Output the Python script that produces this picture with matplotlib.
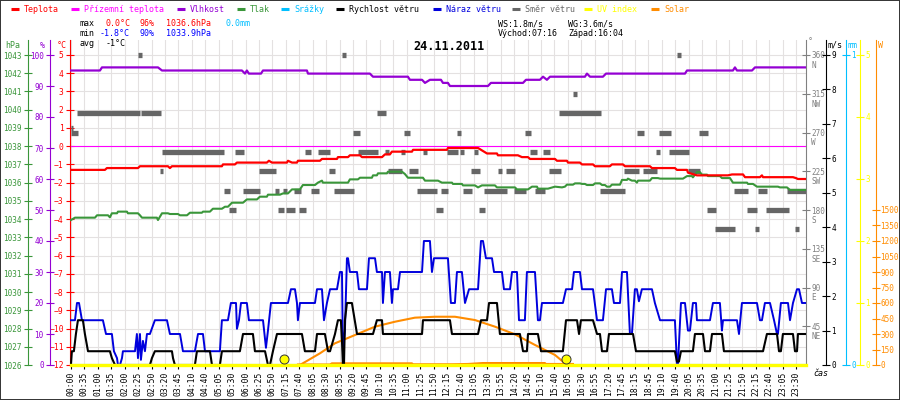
import matplotlib
matplotlib.use("Agg")
import matplotlib.pyplot as plt
from matplotlib.lines import Line2D
from matplotlib.patches import Rectangle

plt.rcParams['font.family'] = 'DejaVu Sans Mono'
plt.rcParams['font.size'] = 6

# x axis = label slot index (the station logs samples, labels every few samples)
time_labels = ['00:00', '00:35', '01:00', '01:35', '02:00', '02:25', '02:50', '03:20', '03:45',
               '04:10', '04:40', '05:05', '05:30', '06:00', '06:25', '06:50', '07:15', '07:40',
               '08:05', '08:30', '08:55', '09:20', '09:45', '10:10', '10:35', '11:00', '11:25',
               '11:50', '12:15', '12:40', '13:05', '13:30', '13:55', '14:20', '14:45', '15:10',
               '15:40', '16:05', '16:30', '16:55', '17:20', '17:45', '18:15', '18:45', '19:10',
               '19:40', '20:05', '20:35', '21:00', '21:25', '21:50', '22:15', '22:40', '23:05',
               '23:30']
x_end = 54.73

# temperature (degC)
temp = [(0.0, -1.3), (2.53, -1.3), (2.68, -1.2), (4.99, -1.2), (5.14, -1.1), (7.22, -1.1),
        (7.37, -1.2), (7.52, -1.1), (11.24, -1.1), (11.32, -1.0), (12.21, -1.0), (12.36, -0.9),
        (14.59, -0.9), (14.74, -0.8), (14.97, -0.9), (16.08, -0.9), (16.16, -0.8), (16.46, -0.9),
        (16.83, -0.9), (16.90, -0.8), (18.54, -0.8), (18.69, -0.7), (19.81, -0.7), (19.88, -0.6),
        (20.63, -0.6), (20.77, -0.5), (21.52, -0.5), (21.67, -0.6), (23.16, -0.6), (23.38, -0.45),
        (23.75, -0.45), (23.90, -0.3), (25.39, -0.3), (25.47, -0.2), (28.00, -0.2), (28.07, -0.1),
        (30.31, -0.1), (30.98, -0.4), (31.72, -0.4), (31.79, -0.5), (33.28, -0.5), (33.58, -0.6),
        (34.03, -0.6), (34.18, -0.7), (36.04, -0.7), (36.19, -0.8), (36.93, -0.8), (37.01, -0.9),
        (37.90, -0.9), (38.05, -1.0), (38.87, -1.0), (39.02, -1.1), (40.13, -1.1), (40.28, -1.0),
        (41.10, -1.0), (41.25, -1.1), (43.11, -1.1), (43.26, -1.2), (44.97, -1.2), (45.12, -1.3),
        (45.87, -1.3), (45.94, -1.45), (46.61, -1.6), (48.92, -1.6), (49.22, -1.55), (50.04, -1.55),
        (50.19, -1.7), (51.30, -1.7), (51.45, -1.6), (51.53, -1.7), (53.76, -1.7), (53.98, -1.75),
        (54.13, -1.8), (54.73, -1.8)]

# ground temperature (degC)
ground = [(0.0, 0.0), (54.73, 0.0)]

# relative humidity (%)
hum = [(0.0, 95), (2.16, 95), (2.31, 96), (6.48, 96), (6.78, 95), (12.73, 95), (12.96, 94),
       (13.10, 95), (13.25, 94), (14.15, 94), (14.30, 95), (17.57, 95), (17.65, 94), (22.26, 94),
       (22.49, 93), (25.09, 93), (25.24, 92), (26.14, 92), (26.36, 91), (26.73, 92), (27.55, 92),
       (27.70, 91), (28.07, 91), (28.22, 90), (31.05, 90), (31.27, 91), (33.66, 91), (33.88, 92),
       (34.92, 92), (35.15, 93), (35.44, 92), (35.67, 93), (38.27, 93), (38.42, 94), (38.65, 93),
       (39.61, 93), (39.84, 94), (45.72, 94), (45.87, 95), (49.29, 95), (49.44, 96), (49.59, 95),
       (50.71, 95), (50.93, 96), (54.73, 96)]

# pressure (hPa)
pres = [(0.0, 1033.95), (0.30, 1034.08), (1.79, 1034.08), (1.94, 1034.21), (2.76, 1034.21),
        (2.90, 1034.10), (3.05, 1034.32), (3.43, 1034.32), (3.50, 1034.41), (4.17, 1034.41),
        (4.24, 1034.32), (4.99, 1034.32), (5.14, 1034.21), (5.29, 1034.08), (6.40, 1034.08),
        (6.48, 1033.95), (6.78, 1034.32), (7.22, 1034.32), (7.37, 1034.28), (7.97, 1034.28),
        (8.12, 1034.21), (8.64, 1034.21), (8.86, 1034.35), (9.75, 1034.35), (9.83, 1034.41),
        (10.35, 1034.41), (10.57, 1034.57), (11.24, 1034.57), (11.47, 1034.68), (11.69, 1034.68),
        (11.99, 1034.90), (12.81, 1034.90), (13.10, 1035.08), (13.85, 1035.08), (14.07, 1035.23),
        (14.59, 1035.23), (14.67, 1035.34), (15.56, 1035.34), (15.79, 1035.41), (16.16, 1035.41),
        (16.46, 1035.63), (17.05, 1035.63), (17.27, 1035.87), (18.17, 1035.87), (18.39, 1036.00),
        (18.69, 1036.11), (18.76, 1036.00), (20.63, 1036.00), (20.77, 1036.18), (21.37, 1036.18),
        (21.52, 1036.27), (22.41, 1036.27), (22.49, 1036.40), (22.78, 1036.40), (22.86, 1036.51),
        (23.53, 1036.51), (23.60, 1036.60), (24.65, 1036.60), (24.87, 1036.47), (25.09, 1036.27),
        (26.21, 1036.27), (26.36, 1036.11), (27.33, 1036.11), (27.62, 1036.00), (28.37, 1036.00),
        (28.44, 1035.93), (29.11, 1035.93), (29.19, 1035.85), (30.08, 1035.85), (30.31, 1035.74),
        (30.60, 1035.85), (31.57, 1035.85), (31.72, 1035.74), (33.06, 1035.74), (33.21, 1035.63),
        (34.03, 1035.63), (34.33, 1035.78), (34.70, 1035.78), (34.77, 1035.67), (35.52, 1035.67),
        (36.04, 1035.78), (36.56, 1035.74), (36.78, 1035.78), (36.93, 1035.89), (37.38, 1035.89),
        (37.53, 1035.96), (37.90, 1035.96), (38.05, 1035.93), (38.27, 1035.93), (38.42, 1035.87),
        (38.87, 1035.87), (39.02, 1035.96), (39.39, 1035.96), (39.54, 1035.87), (39.76, 1035.87),
        (39.91, 1035.78), (40.13, 1035.78), (40.28, 1035.89), (40.88, 1035.89), (41.03, 1036.15),
        (41.40, 1036.15), (41.47, 1036.22), (41.77, 1036.11), (41.99, 1036.11), (42.14, 1036.00),
        (42.22, 1036.11), (43.11, 1036.11), (43.26, 1036.25), (43.71, 1036.25), (43.86, 1036.22),
        (45.57, 1036.22), (45.87, 1036.36), (46.24, 1036.36), (46.31, 1036.29), (46.61, 1036.58),
        (46.83, 1036.58), (46.98, 1036.44), (47.36, 1036.44), (47.43, 1036.36), (48.32, 1036.36),
        (48.47, 1036.25), (49.07, 1036.25), (49.29, 1036.00), (50.34, 1036.00), (50.41, 1035.93),
        (50.78, 1035.93), (51.08, 1035.78), (52.64, 1035.78), (52.79, 1035.74), (53.31, 1035.74),
        (53.54, 1035.60), (54.73, 1035.60)]

# rain (mm) and UV index - zero all day
rain = [(0.0, 0.0), (54.73, 0.0)]
uv = [(0.0, 0.0), (54.73, 0.0)]

# wind speed (m/s)
speed = [(0.0, 0), (0.07, 0.4), (0.22, 0.4), (0.37, 0.9), (0.52, 1.3), (0.89, 1.3), (1.04, 0.9),
         (1.27, 0.4), (2.90, 0.4), (3.05, 0.2), (3.28, 0), (5.88, 0), (6.03, 0.2), (6.25, 0.4),
         (7.52, 0.4), (7.60, 0.2), (7.74, 0), (9.23, 0), (9.38, 0.4), (10.35, 0.4), (10.50, 0),
         (11.09, 0), (11.24, 0.4), (12.58, 0.4), (12.81, 0.9), (13.55, 0.9), (13.70, 0.4),
         (14.45, 0.4), (14.67, 0), (14.82, 0), (15.04, 0.4), (15.34, 0.9), (17.20, 0.9),
         (17.42, 0.4), (18.17, 0.4), (18.32, 0.9), (18.91, 0.9), (19.14, 0.4), (19.29, 0.4),
         (19.66, 0.9), (19.88, 1.3), (20.10, 1.3), (20.18, 0.7), (20.25, 0), (20.33, 0),
         (20.40, 1.3), (20.55, 1.8), (20.92, 1.8), (21.30, 0.9), (22.49, 0.9), (22.78, 1.3),
         (23.16, 1.3), (23.23, 0.9), (26.14, 0.9), (26.21, 1.3), (28.22, 1.3), (28.37, 0.9),
         (30.31, 0.9), (30.53, 1.3), (30.98, 1.3), (31.13, 1.8), (31.72, 1.8), (31.94, 0.9),
         (33.43, 0.9), (33.66, 0.4), (33.95, 0.4), (34.03, 0.9), (34.77, 0.9), (35.00, 0.4),
         (36.63, 0.4), (36.86, 1.3), (37.68, 1.3), (37.83, 0.9), (37.97, 1.3), (38.87, 1.3),
         (39.17, 0.9), (39.39, 0.9), (39.54, 0.4), (39.91, 0.4), (40.06, 0.9), (41.85, 0.9),
         (42.07, 0.4), (44.97, 0.4), (45.12, 0.1), (45.27, 0.1), (45.42, 0.4), (46.31, 0.4),
         (46.46, 0.9), (47.06, 0.9), (47.21, 0.4), (47.58, 0.4), (47.73, 0.9), (48.47, 0.9),
         (48.62, 0.4), (51.53, 0.4), (51.82, 0.9), (52.57, 0.9), (52.72, 0.4), (52.86, 0.4),
         (53.01, 0.9), (53.76, 0.9), (53.91, 0.4), (54.06, 0.4), (54.13, 0.9), (54.73, 0.9)]

# wind gust (m/s)
gust = [(0.0, 1.3), (0.30, 1.3), (0.45, 1.8), (0.60, 1.8), (0.82, 1.3), (2.38, 1.3), (2.61, 0.9),
        (3.05, 0.9), (3.20, 0.4), (3.43, 0.2), (3.50, 0), (3.65, 0), (3.80, 0.2), (3.87, 0.4),
        (4.77, 0.4), (4.91, 0.9), (4.99, 0.2), (5.14, 0.9), (5.21, 0.15), (5.36, 0.7), (5.51, 0.4),
        (5.66, 0.9), (5.88, 0.9), (6.25, 1.3), (7.15, 1.3), (7.37, 0.9), (8.12, 0.9), (8.34, 0.4),
        (9.23, 0.4), (9.46, 0.9), (9.83, 0.9), (9.98, 0.4), (11.09, 0.4), (11.24, 1.3),
        (11.69, 1.3), (11.91, 1.8), (12.29, 1.8), (12.36, 1.05), (12.51, 1.3), (12.66, 1.8),
        (13.10, 1.8), (13.25, 1.3), (14.30, 1.3), (14.52, 0.5), (14.67, 1.0), (14.89, 1.8),
        (16.16, 1.8), (16.38, 2.2), (16.68, 2.2), (16.83, 1.8), (16.90, 1.3), (17.05, 1.8),
        (18.17, 1.8), (18.32, 2.2), (18.69, 2.2), (18.84, 1.3), (19.06, 1.8), (19.29, 2.2),
        (19.81, 2.2), (20.03, 2.7), (20.18, 2.7), (20.25, 0.4), (20.40, 1.0), (20.55, 3.1),
        (20.63, 3.1), (20.77, 2.7), (21.30, 2.7), (21.44, 2.2), (22.04, 2.2), (22.19, 3.1),
        (22.64, 3.1), (22.78, 2.7), (23.16, 2.7), (23.23, 1.8), (23.38, 2.7), (23.75, 2.7),
        (23.90, 1.8), (23.98, 2.2), (24.35, 2.2), (24.50, 2.7), (26.14, 2.7), (26.28, 3.6),
        (26.73, 3.6), (26.88, 2.7), (27.03, 3.1), (28.07, 3.1), (28.29, 1.8), (28.59, 1.8),
        (28.74, 2.7), (29.11, 2.7), (29.34, 1.8), (29.64, 2.2), (30.31, 2.2), (30.53, 3.6),
        (30.68, 3.6), (30.90, 3.1), (31.35, 3.1), (31.50, 2.7), (32.09, 2.7), (32.24, 2.2),
        (32.69, 2.2), (32.84, 2.7), (33.21, 2.7), (33.36, 1.3), (33.80, 1.3), (33.95, 2.7),
        (34.55, 2.7), (34.77, 1.3), (34.92, 1.3), (35.07, 1.8), (36.63, 1.8), (36.86, 2.2),
        (37.31, 2.2), (37.45, 2.7), (37.90, 2.7), (38.05, 2.2), (38.87, 2.2), (39.17, 1.3),
        (39.61, 1.3), (39.84, 2.2), (40.28, 2.2), (40.43, 1.8), (40.88, 1.8), (41.03, 2.7),
        (41.40, 2.7), (41.62, 0.9), (41.77, 0.9), (41.99, 2.2), (42.14, 2.2), (42.29, 1.85),
        (42.51, 2.2), (43.26, 2.2), (43.48, 1.8), (43.86, 1.3), (44.97, 1.3), (45.12, 0.05),
        (45.20, 0.05), (45.42, 1.8), (45.72, 1.8), (45.94, 1.0), (46.09, 1.0), (46.31, 1.8),
        (46.54, 1.8), (46.61, 1.3), (47.58, 1.3), (47.80, 1.8), (48.32, 1.8), (48.47, 1.0),
        (48.55, 1.3), (49.59, 1.3), (49.74, 0.9), (49.96, 1.8), (51.08, 1.8), (51.30, 1.3),
        (51.45, 1.3), (51.67, 1.8), (52.05, 1.8), (52.35, 1.3), (52.57, 0.9), (52.64, 0.9),
        (52.86, 1.8), (53.39, 1.8), (53.54, 1.3), (53.76, 1.8), (54.06, 2.2), (54.21, 2.2),
        (54.43, 1.8), (54.73, 1.8)]

# wind direction runs: (from slot, to slot, degrees)
wind_dir = [(4.99, 5.29, 360), (0.45, 5.14, 292.5), (5.21, 6.70, 292.5), (0.0, 0.15, 275),
            (0.0, 0.52, 270), (6.78, 11.39, 247.5), (12.21, 12.88, 247.5), (17.42, 17.87, 247.5),
            (18.39, 19.29, 247.5), (6.63, 6.85, 225), (14.00, 15.26, 225), (11.39, 11.84, 202.5),
            (12.81, 14.07, 202.5), (15.19, 15.49, 202.5), (15.79, 16.08, 202.5),
            (16.60, 17.12, 202.5), (17.87, 18.47, 202.5), (11.76, 12.29, 180), (15.41, 15.86, 180),
            (16.01, 16.68, 180), (16.98, 17.50, 180),
            (20.18, 20.48, 360), (22.78, 23.45, 292.5), (36.34, 39.46, 292.5), (21.00, 21.52, 270),
            (24.80, 25.24, 270), (28.74, 29.04, 270), (33.80, 34.25, 270), (21.37, 22.86, 247.5),
            (23.38, 23.68, 247.5), (24.57, 24.87, 247.5), (26.21, 26.51, 247.5),
            (28.00, 28.82, 247.5), (28.96, 29.26, 247.5), (30.01, 30.31, 247.5),
            (34.18, 34.70, 247.5), (35.15, 35.67, 247.5), (19.21, 19.66, 225), (23.60, 24.65, 225),
            (25.17, 25.84, 225), (29.78, 30.46, 225), (31.79, 32.09, 225), (32.39, 33.06, 225),
            (35.59, 36.49, 225), (19.58, 21.07, 202.5), (25.76, 27.25, 202.5),
            (27.55, 28.07, 202.5), (29.19, 29.86, 202.5), (30.75, 32.46, 202.5),
            (32.99, 33.88, 202.5), (34.55, 35.29, 202.5), (27.18, 27.70, 180), (30.38, 30.83, 180),
            (45.12, 45.42, 360), (37.38, 37.68, 315), (42.14, 42.67, 270), (43.79, 44.68, 270),
            (46.76, 47.43, 270), (43.56, 43.86, 247.5), (44.53, 46.02, 247.5), (41.18, 42.29, 225),
            (42.59, 43.63, 225), (45.94, 46.83, 225), (39.39, 41.25, 202.5), (49.37, 50.41, 202.5),
            (51.15, 51.82, 202.5), (53.31, 54.73, 202.5), (47.36, 48.03, 180), (50.34, 51.08, 180),
            (51.75, 53.46, 180), (47.95, 49.44, 157.5), (50.93, 51.23, 157.5),
            (53.91, 54.21, 157.5)]

# solar (W/m2): clear-sky curve and measured
solar_calc = [(17.05, 0), (18.54, 113), (19.66, 210), (21.15, 290), (22.64, 371), (24.13, 419),
              (25.61, 458), (27.10, 467), (28.59, 467), (30.08, 435), (31.57, 371), (33.06, 297),
              (34.55, 194), (36.04, 97), (36.93, 0)]
solar_meas = [(16.90, 5), (19.29, 5), (19.43, 16), (25.39, 16), (25.47, 7), (28.37, 7),
              (29.56, 10), (30.68, 19), (35.29, 19), (35.37, 10), (37.38, 10)]

sun_events = [15.86, 36.86]   # sunrise 07:16, sunset 16:04
compass = ['NE', 'E', 'SE', 'S', 'SW', 'W', 'NW', 'N']

legend_names = ['Teplota', 'Přízemní teplota', 'Vlhkost', 'Tlak', 'Srážky', 'Rychlost větru',
                'Náraz větru', 'Směr větru', 'UV index', 'Solar']
legend_colors = ['#ff0000', '#ff00ff', '#9400d3', '#3a963a', '#00bfff', '#000000', '#0000dd',
                 '#666666', '#ffff00', '#ff8c00']
legend_x = [11, 71, 177, 237, 281, 336, 433, 512, 584, 651]

RED, MAG, PUR, GRN, CYA, BLK, BLU, GRY, YEL, ORA = legend_colors
DIRC = '#808080'


def xy(pairs):
    return [p[0] for p in pairs], [p[1] for p in pairs]


W, H = 900, 400
def fx(x): return x / W
def fy(y): return 1 - y / H

fig = plt.figure(figsize=(9, 4), dpi=100)
fig.patch.set_facecolor('white')
ax = fig.add_axes([fx(70), fy(365), (806 - 70) / W, (365 - 40) / H])


def span(lo, hi):
    # the scales fill 310 px, the frame sticks out 15 px above
    return lo, lo + (hi - lo) * 325 / 310


ax.set_xlim(-0.07, x_end)
ax.set_ylim(*span(-12, 5))
ax.set_yticks(range(-12, 6))
ax.set_xticks(range(len(time_labels)))
ax.set_xticklabels(time_labels, rotation=90)
ax.grid(True, color='#e4e1e1', lw=0.8)
ax.set_axisbelow(True)
for s in ['top', 'right']:
    ax.spines[s].set_visible(False)
ax.spines['left'].set_color(RED)
ax.spines['bottom'].set_color(BLK)
ax.tick_params(axis='y', colors=RED, direction='inout', length=6, width=0.8, pad=1.5,
               labelsize=5.8)
ax.tick_params(axis='x', direction='out', length=3, width=0.8, pad=2, labelsize=5.8)


def side_axis(lo, hi, side=None, offset=0, color='k', ticks=(), pad=1.5):
    t = ax.twinx()
    t.set_ylim(*span(lo, hi))
    for s in t.spines.values():
        s.set_visible(False)
    if side is None:
        t.yaxis.set_visible(False)
        return t
    sp = t.spines[side]
    sp.set_visible(True)
    sp.set_position(('outward', offset * 0.72))
    sp.set_color(color)
    t.yaxis.set_ticks_position(side)
    t.set_yticks(ticks)
    t.tick_params(axis='y', colors=color, direction='inout', length=6, width=0.8, pad=pad,
                  labelsize=5.5)
    return t


# wind direction (drawn first, under the lines)
dax = side_axis(0, 360, 'right', 0, DIRC, range(45, 361, 45), pad=1)
dax.hlines([d[2] for d in wind_dir], [d[0] for d in wind_dir], [d[1] for d in wind_dir],
           colors=GRY, lw=3.8, capstyle='butt')
for deg, name in zip(range(45, 361, 45), compass):
    dax.annotate(name, xy=(1, deg), xycoords=('axes fraction', 'data'), xytext=(3.8, -7.4),
                 textcoords='offset points', ha='left', va='center', color=DIRC, fontsize=5.5)

hax = side_axis(0, 100, 'left', 20, PUR, range(0, 101, 10))
hax.plot(*xy(hum), color=PUR, lw=1.6)

pax = side_axis(1026, 1043, 'left', 42, GRN, range(1026, 1044))
pax.plot(*xy(pres), color=GRN, lw=1.5)

tax = side_axis(-12, 5)
tax.plot(*xy(ground), color=MAG, lw=0.8)
tax.plot(*xy(temp), color=RED, lw=1.6)

rax = side_axis(0, 1, 'right', 40, CYA, [0, 1], pad=0.8)
rax.plot(*xy(rain), color=CYA, lw=1.5)

yax = side_axis(0, 5, 'right', 54, YEL, range(0, 6), pad=0.8)

sax = side_axis(0, 3000, 'right', 70, ORA, range(0, 1501, 150), pad=0.3)
sax.plot(*xy(solar_meas), color=ORA, lw=1.5)
sax.plot(*xy(solar_calc), color=ORA, lw=1.5)

wax = side_axis(0, 9, 'right', 20, BLK, range(0, 10), pad=0.8)
wax.plot(*xy(gust), color=BLU, lw=1.4)
wax.plot(*xy(speed), color=BLK, lw=1.5)

uvax = side_axis(0, 5)
uvax.plot(*xy(uv), color=YEL, lw=2.4, clip_on=False, zorder=5)
uvax.plot(sun_events, [0.017] * len(sun_events), 'o', transform=uvax.get_xaxis_transform(),
          ms=6.5, mfc=YEL, mec='#333333', mew=0.7, clip_on=False, zorder=6)

# legend row
for name, col, x0 in zip(legend_names, legend_colors, legend_x):
    fig.add_artist(Line2D([fx(x0), fx(x0 + 8)], [fy(9), fy(9)], color=col, lw=2.2,
                          solid_capstyle='butt'))
    fig.text(fx(x0 + 13), fy(9), name, color=col, va='center', ha='left')

# statistics
fig.text(fx(80), fy(24), 'max', va='center')
fig.text(fx(106), fy(24), '0.0°C', color=RED, va='center')
fig.text(fx(140), fy(24), '96%', color=RED, va='center')
fig.text(fx(166), fy(24), '1036.6hPa', color=RED, va='center')
fig.text(fx(226), fy(24), '0.0mm', color=CYA, va='center')
fig.text(fx(80), fy(34), 'min', va='center')
fig.text(fx(100), fy(34), '-1.8°C', color='#0000ff', va='center')
fig.text(fx(140), fy(34), '90%', color='#0000ff', va='center')
fig.text(fx(166), fy(34), '1033.9hPa', color='#0000ff', va='center')
fig.text(fx(80), fy(44), 'avg', va='center')
fig.text(fx(106), fy(44), '-1°C', va='center')
fig.text(fx(498), fy(24), 'WS:1.8m/s', va='center')
fig.text(fx(568), fy(24), 'WG:3.6m/s', va='center')
fig.text(fx(498), fy(34), 'Východ:07:16', va='center')
fig.text(fx(568), fy(34), 'Západ:16:04', va='center')
fig.text(fx(449), fy(47), '24.11.2011', ha='center', va='center', fontsize=8.5,
         fontweight='bold')

# axis units
fig.text(fx(13), fy(45), 'hPa', color=GRN, ha='center', va='center')
fig.text(fx(42), fy(45), '%', color=PUR, ha='center', va='center')
fig.text(fx(62), fy(45), '°C', color=RED, ha='center', va='center')
fig.text(fx(810), fy(42), '°', color=DIRC, ha='center', va='center')
fig.text(fx(835), fy(45), 'm/s', color=BLK, ha='center', va='center')
fig.text(fx(853), fy(45), 'mm', color=CYA, ha='center', va='center')
fig.text(fx(880), fy(45), 'W', color=ORA, ha='center', va='center')
fig.text(fx(813), fy(373), 'čas', ha='left', va='center', style='italic')

fig.add_artist(Rectangle((0, 0), 1, 1, transform=fig.transFigure, fill=False,
                         ec='#333333', lw=1.4))

fig.savefig('out.png', dpi=100, facecolor='white')
